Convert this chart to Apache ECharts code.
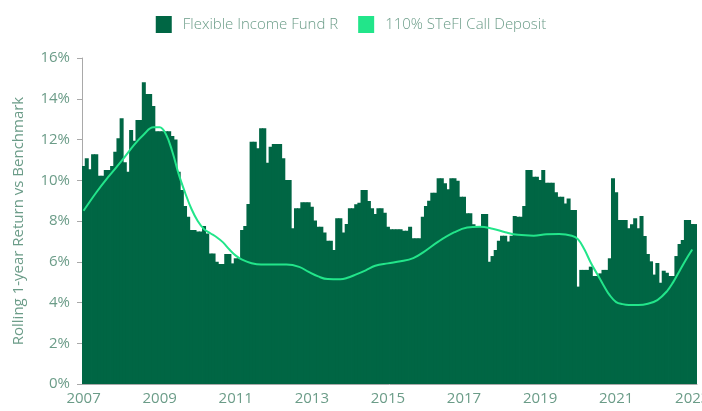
<!DOCTYPE html>
<html>
<head>
<meta charset="utf-8">
<script src="https://cdn.jsdelivr.net/npm/echarts@6/dist/echarts.min.js"></script>
<style>
  html, body { margin: 0; padding: 0; background: #ffffff; }
  #chart { width: 702px; height: 411px; }
</style>
</head>
<body>
<div id="chart"></div>
<script>
// rolling 1-year return of the fund, monthly from Jan 2007 (%)
const fundValues = [
  10.70, 11.08, 10.54, 11.27, 11.27, 10.22, 10.22, 10.50, 10.50, 10.70, 11.40, 12.06,
  13.04, 10.88, 10.42, 12.47, 11.94, 12.96, 12.96, 14.81, 14.23, 14.23, 13.64, 12.40,
  12.40, 12.40, 12.40, 12.40, 12.17, 12.00, 10.42, 9.52, 8.74, 8.21, 7.56, 7.56,
  7.48, 7.48, 7.75, 7.39, 6.41, 6.41, 6.00, 5.89, 5.89, 6.38, 6.38, 5.92,
  6.17, 6.17, 7.56, 7.75, 8.83, 11.89, 11.89, 11.57, 12.55, 12.55, 10.86, 11.65,
  11.78, 11.78, 11.78, 11.08, 10.01, 10.01, 7.64, 8.62, 8.62, 8.92, 8.92, 8.92,
  8.70, 8.02, 7.72, 7.72, 7.43, 7.03, 7.03, 6.58, 8.13, 8.13, 7.44, 7.85,
  8.62, 8.62, 8.82, 8.90, 9.52, 9.52, 8.98, 8.62, 8.34, 8.62, 8.62, 8.41,
  7.72, 7.59, 7.59, 7.59, 7.59, 7.52, 7.52, 7.72, 7.15, 7.15, 7.15, 8.21,
  8.74, 9.00, 9.39, 9.39, 10.10, 10.10, 9.85, 9.56, 10.10, 10.10, 9.98, 9.19,
  9.19, 8.38, 8.38, 7.84, 7.72, 7.72, 8.34, 8.34, 6.00, 6.28, 6.58, 7.03,
  7.28, 7.28, 6.99, 7.28, 8.25, 8.21, 8.21, 8.74, 10.50, 10.50, 10.17, 10.17,
  10.01, 10.50, 9.88, 9.88, 9.88, 9.41, 9.19, 9.19, 8.86, 9.11, 8.54, 8.54,
  4.78, 5.60, 5.60, 5.60, 5.76, 5.30, 5.30, 5.43, 5.60, 5.60, 6.17, 10.10,
  9.41, 8.05, 8.05, 8.05, 7.64, 7.84, 8.13, 7.64, 8.25, 7.26, 6.38, 6.02,
  5.37, 5.94, 4.97, 5.56, 5.46, 5.30, 5.30, 6.28, 6.87, 7.07, 8.05, 8.05,
  7.85, 7.85
]

// benchmark line, read at selected months (index from Jan 2007)
const stefiMonths = [0, 4, 8, 12, 16, 19, 22, 24, 26, 28, 30, 32, 34, 36, 38, 40, 42, 44, 46, 48,
  50, 53, 56, 60, 64, 68, 71, 74, 77, 81, 83, 86, 89, 92, 96, 100, 104, 107, 112, 117,
  121, 125, 129, 133, 137, 142, 146, 150, 154, 156, 158, 160, 162, 164, 166, 168, 170, 172,
  175, 178, 181, 184, 186, 188, 190, 192]
const stefiValues = [8.5, 9.4, 10.2, 10.95, 11.75, 12.25, 12.6, 12.6, 12.25, 11.4, 10.3, 9.4, 8.6, 8.0, 7.6, 7.4, 7.2, 6.95, 6.6, 6.3,
  6.1, 5.93, 5.86, 5.86, 5.86, 5.75, 5.5, 5.28, 5.15, 5.14, 5.2, 5.38, 5.58, 5.8, 5.92, 6.02, 6.18, 6.45, 7.0, 7.45,
  7.68, 7.72, 7.62, 7.45, 7.32, 7.28, 7.35, 7.36, 7.28, 7.1, 6.6, 5.95, 5.4, 4.85, 4.35, 4.02, 3.92, 3.88,
  3.88, 3.94, 4.12, 4.55, 5.0, 5.55, 6.1, 6.6]

const startYear = 2007
const yTicks = { min: 0, max: 16, step: 2 }

const months = fundValues.map((v, i) => {
  const y = startYear + Math.floor(i / 12)
  const m = (i % 12) + 1
  return y + '-' + (m < 10 ? '0' + m : m)
})

const textColor = '#6b9c88'
const fontFamily = '"Open Sans", sans-serif'

const chart = echarts.init(document.getElementById('chart'))

chart.setOption({
  backgroundColor: '#ffffff',
  animation: false,
  legend: {
    top: 11,
    left: 'center',
    icon: 'rect',
    itemWidth: 16,
    itemHeight: 17,
    itemGap: 20,
    textStyle: { color: textColor, fontSize: 15, fontFamily: fontFamily, fontWeight: 300, padding: [0, 0, 0, 6] },
    data: ['Flexible Income Fund R', '110% STeFI Call Deposit']
  },
  grid: { left: 82, right: 5, top: 58, bottom: 27, outerBoundsMode: 'none', containLabel: false },
  xAxis: {
    type: 'category',
    data: months,
    boundaryGap: true,
    axisLine: { lineStyle: { color: '#a9a9a9', width: 1 } },
    axisTick: {
      length: 5,
      lineStyle: { color: '#a9a9a9' },
      interval: (i) => i % 24 === 0
    },
    axisLabel: {
      color: textColor,
      fontSize: 15,
      fontFamily: fontFamily,
      margin: 7,
      interval: (i) => i % 24 === 0,
      formatter: (v) => v.slice(0, 4)
    },
    splitLine: { show: false }
  },
  yAxis: {
    type: 'value',
    min: yTicks.min,
    max: yTicks.max,
    interval: yTicks.step,
    name: 'Rolling 1-year Return vs Benchmark',
    nameLocation: 'middle',
    nameGap: 56,
    nameTextStyle: { color: textColor, fontSize: 15, fontFamily: fontFamily },
    axisLine: { show: true, lineStyle: { color: '#a9a9a9', width: 1 } },
    axisTick: { show: true, length: 5, lineStyle: { color: '#a9a9a9' } },
    axisLabel: {
      color: textColor,
      fontSize: 15,
      fontFamily: fontFamily,
      margin: 12,
      formatter: '{value}%'
    },
    splitLine: { show: false }
  },
  series: [
    {
      name: 'Flexible Income Fund R',
      type: 'bar',
      data: fundValues,
      barWidth: 4,
      barGap: '-100%',
      itemStyle: { color: '#006644' },
      z: 2
    },
    {
      name: '110% STeFI Call Deposit',
      type: 'line',
      data: stefiMonths.map((m, i) => [m, stefiValues[i]]),
      smooth: 0.4,
      symbol: 'none',
      lineStyle: { color: '#22e58a', width: 2 },
      itemStyle: { color: '#22e58a' },
      z: 3
    }
  ]
})

window.addEventListener('resize', () => chart.resize())
</script>
</body>
</html>
